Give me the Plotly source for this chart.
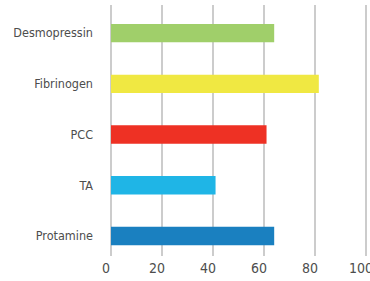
import plotly.graph_objects as go

categories = ["Protamine", "TA", "PCC", "Fibrinogen", "Desmopressin"]
values = [64, 41, 61, 81.5, 64]
colors = ["#1a80c0", "#1fb5e6", "#ee3124", "#f0e842", "#a0cf6a"]
x_ticks = [0, 20, 40, 60, 80, 100]

fig = go.Figure(go.Bar(
    y=categories, x=values, orientation="h",
    marker=dict(color=colors, line=dict(width=0)),
    width=0.36,
))

family = "DejaVu Sans Condensed, Roboto, sans-serif"
txt = "#4d4d4d"

fig.update_layout(
    width=370, height=281,
    margin=dict(l=111, r=1, t=5, b=25, autoexpand=False),
    paper_bgcolor="white", plot_bgcolor="white",
    font=dict(family=family, size=12, color=txt),
    showlegend=False,
    xaxis=dict(
        range=[0, 101.18], tickvals=x_ticks, showgrid=True,
        gridcolor="#cccccc", gridwidth=1.5,
        zeroline=True, zerolinecolor="#cccccc", zerolinewidth=1.5,
        showline=False, ticks="", tickfont=dict(family=family, size=14, color=txt),
        ticklabeloverflow="allow", ticklabelshift=-5, ticklabelstandoff=2,
        fixedrange=True, automargin=False,
    ),
    yaxis=dict(
        range=[-0.394, 4.552], showgrid=False, zeroline=False, showline=False,
        ticks="", ticklabelstandoff=17,
        tickfont=dict(family=family, size=12.5, color=txt),
        fixedrange=True, automargin=False,
    ),
)

fig.write_html(
    "out.html",
    config={"displayModeBar": False},
    post_script="document.body.style.margin='0';",
)
